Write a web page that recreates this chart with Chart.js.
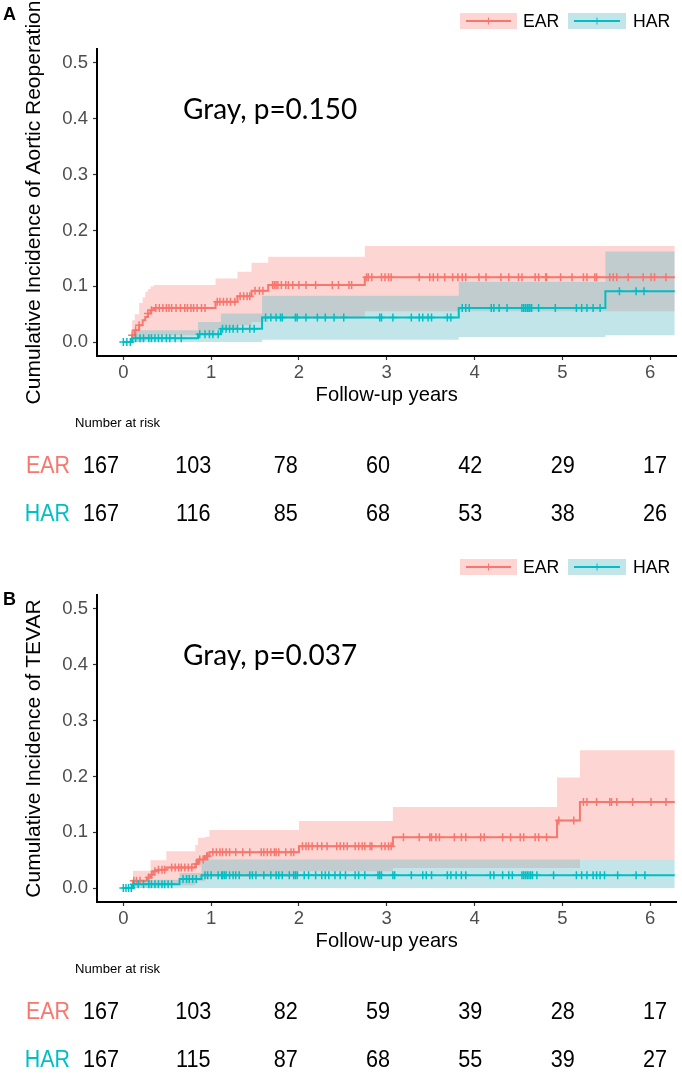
<!DOCTYPE html>
<html>
<head>
<meta charset="utf-8">
<script src="https://cdn.jsdelivr.net/npm/chart.js@4.4.1/dist/chart.umd.min.js"></script>
<style>
  html, body { margin: 0; padding: 0; background: #fff; }
  #wrap { position: relative; width: 682px; height: 1074px; overflow: hidden; }
  canvas { position: absolute; left: 0; }
  #chartA { top: 0; }
  #chartB { top: 546px; }
</style>
</head>
<body>
<div id="wrap">
  <canvas id="chartA" width="682" height="546"></canvas>
  <canvas id="chartB" width="682" height="528"></canvas>
</div>
<script>
const groups = ['EAR', 'HAR'];
const xTickYears = [0, 1, 2, 3, 4, 5, 6];
const yTickValues = [0, 0.1, 0.2, 0.3, 0.4, 0.5];
const riskYears = [0, 1, 2, 3, 4, 5, 6];

// panel A - aortic reoperation
const aEarTime  = [0, 0.10, 0.13, 0.18, 0.22, 0.25, 0.28, 0.31, 0.35, 1.05, 1.30, 1.46, 1.65, 2.75, 6.28];
const aEarCif   = [0, 0.012, 0.021, 0.030, 0.039, 0.045, 0.051, 0.057, 0.061, 0.072, 0.082, 0.092, 0.102, 0.116, 0.116];
const aEarUpper = [0, 0.039, 0.050, 0.070, 0.080, 0.090, 0.095, 0.100, 0.102, 0.114, 0.126, 0.142, 0.153, 0.172, 0.172];
const aEarLower = [0, 0, 0, 0, 0.002, 0.005, 0.008, 0.010, 0.012, 0.022, 0.030, 0.036, 0.042, 0.055, 0.055];
const aEarCensor = [0.10, 0.14, 0.18, 0.28, 0.32, 0.37, 0.41, 0.45, 0.49, 0.52, 0.55, 0.60, 0.65, 0.70, 0.73, 0.77, 0.80, 0.84, 0.89, 0.93,
  1.07, 1.10, 1.14, 1.18, 1.22, 1.27, 1.33, 1.37, 1.41, 1.44, 1.50, 1.55, 1.59, 1.70, 1.72, 1.74, 1.76, 1.80, 1.85, 1.88, 1.93,
  2.00, 2.08, 2.19, 2.38, 2.45, 2.57, 2.60, 2.77, 2.79, 2.83, 2.94, 2.98, 3.02, 3.05, 3.37, 3.49, 3.53, 3.58, 3.66, 3.75, 3.81,
  3.86, 3.90, 4.05, 4.13, 4.30, 4.39, 4.50, 4.54, 4.69, 4.73, 4.81, 4.82, 4.98, 5.11, 5.24, 5.28, 5.37, 5.39, 5.54, 5.58, 5.62,
  5.75, 5.92, 6.01, 6.05, 6.18];

const aHarTime  = [0, 0.10, 0.85, 1.11, 1.58, 3.82, 5.49, 6.28];
const aHarCif   = [0, 0.007, 0.014, 0.024, 0.044, 0.061, 0.091, 0.091];
const aHarUpper = [0, 0.021, 0.036, 0.051, 0.083, 0.108, 0.162, 0.162];
const aHarLower = [0, 0, 0, 0, 0.004, 0.009, 0.012, 0.012];
const aHarCensor = [0.00, 0.04, 0.08, 0.14, 0.19, 0.23, 0.29, 0.32, 0.36, 0.40, 0.44, 0.49, 0.53, 0.59, 0.66, 0.87, 0.93, 0.98,
  1.02, 1.08, 1.13, 1.17, 1.21, 1.25, 1.30, 1.36, 1.44, 1.49, 1.62, 1.68, 1.74, 1.79, 1.81, 1.96, 1.98, 2.08, 2.21, 2.30, 2.40,
  2.51, 2.92, 2.94, 3.07, 3.28, 3.37, 3.41, 3.47, 3.51, 3.69, 3.73, 3.86, 3.90, 3.94, 4.19, 4.22, 4.28, 4.37, 4.54, 4.56, 4.58,
  4.60, 4.62, 4.63, 4.65, 4.73, 4.92, 5.16, 5.22, 5.28, 5.35, 5.43, 5.65, 5.84, 5.93];

const aEarRisk = [167, 103, 78, 60, 42, 29, 17];
const aHarRisk = [167, 116, 85, 68, 53, 38, 26];

// panel B - TEVAR
const bEarTime  = [0, 0.11, 0.27, 0.31, 0.34, 0.40, 0.49, 0.82, 0.85, 0.93, 0.98, 2.00, 3.07, 4.94, 5.20, 6.28];
const bEarCif   = [0, 0.013, 0.019, 0.024, 0.030, 0.033, 0.037, 0.043, 0.051, 0.057, 0.064, 0.075, 0.091, 0.121, 0.154, 0.154];
const bEarUpper = [0, 0.031, 0.031, 0.050, 0.050, 0.050, 0.066, 0.077, 0.090, 0.092, 0.104, 0.120, 0.145, 0.198, 0.247, 0.247];
const bEarLower = [0, 0, 0, 0, 0, 0.003, 0.005, 0.008, 0.012, 0.016, 0.020, 0.030, 0.036, 0.036, 0.051, 0.051];
const bEarCensor = [0.12, 0.15, 0.19, 0.29, 0.32, 0.36, 0.40, 0.44, 0.47, 0.55, 0.59, 0.63, 0.66, 0.70, 0.74, 0.78, 0.83, 0.87,
  0.91, 0.95, 0.96, 1.02, 1.06, 1.10, 1.13, 1.17, 1.21, 1.28, 1.36, 1.44, 1.57, 1.60, 1.64, 1.68, 1.72, 1.74, 1.77, 1.85, 1.91,
  1.94, 2.04, 2.08, 2.11, 2.15, 2.21, 2.26, 2.32, 2.43, 2.47, 2.51, 2.55, 2.64, 2.68, 2.72, 2.75, 2.81, 2.83, 2.94, 2.98, 3.02,
  3.05, 3.19, 3.37, 3.49, 3.51, 3.56, 3.60, 3.77, 3.85, 3.90, 4.07, 4.11, 4.32, 4.41, 4.52, 4.56, 4.69, 4.73, 4.82, 4.96, 5.13,
  5.24, 5.28, 5.39, 5.54, 5.56, 5.62, 5.80, 6.01, 6.18];

const bHarTime  = [0, 0.11, 0.20, 0.64, 0.89, 6.28];
const bHarCif   = [0, 0.007, 0.007, 0.016, 0.023, 0.023];
const bHarUpper = [0, 0.012, 0.015, 0.027, 0.051, 0.051];
const bHarLower = [0, 0, 0, 0, 0, 0];
const bHarCensor = [0.00, 0.03, 0.06, 0.09, 0.12, 0.17, 0.23, 0.29, 0.32, 0.36, 0.40, 0.44, 0.47, 0.51, 0.55, 0.68, 0.72, 0.75,
  0.79, 0.83, 0.93, 0.96, 1.00, 1.08, 1.12, 1.13, 1.15, 1.17, 1.21, 1.25, 1.28, 1.32, 1.44, 1.47, 1.51, 1.60, 1.68, 1.74, 1.77,
  1.81, 1.89, 1.94, 1.96, 1.98, 2.06, 2.11, 2.19, 2.26, 2.30, 2.34, 2.41, 2.47, 2.53, 2.64, 2.68, 2.75, 2.90, 2.92, 2.94, 3.07,
  3.09, 3.28, 3.41, 3.45, 3.51, 3.69, 3.73, 3.79, 3.85, 3.90, 4.18, 4.22, 4.32, 4.39, 4.43, 4.54, 4.56, 4.58, 4.60, 4.62, 4.64,
  4.66, 4.71, 4.90, 5.16, 5.22, 5.28, 5.35, 5.39, 5.43, 5.48, 5.63, 5.84, 5.94];

const bEarRisk = [167, 103, 82, 59, 39, 28, 17];
const bHarRisk = [167, 115, 87, 68, 55, 39, 27];

const lineColors = ['#F8766D', '#00BFC4'];
const bandColors = ['rgba(248,118,109,0.3)', 'rgba(100,190,200,0.4)'];
const FONT = '"Liberation Sans", Arial, sans-serif';

Chart.defaults.font.family = FONT;

function pts(times, vals) {
    return times.map((t, i) => ({x: t, y: vals[i]}));
}

// value of the step curve at time t
function stepAt(times, vals, t) {
    let v = vals[0];
    for (let i = 0; i < times.length; i++) {
        if (times[i] <= t) v = vals[i];
    }
    return v;
}

function censorPts(censor, times, vals) {
    return censor.map(t => ({x: t, y: stepAt(times, vals, t)}));
}

function buildDatasets(curves) {
    let sets = [];
    // bands first (underneath), then lines, then censor marks
    curves.forEach((c, gi) => {
        sets.push({
            data: pts(c.time, c.upper), stepped: true, fill: '+1',
            backgroundColor: bandColors[gi], borderColor: 'rgba(0,0,0,0)', borderWidth: 0,
            pointRadius: 0, order: 20 - gi * 2
        });
        sets.push({
            data: pts(c.time, c.lower), stepped: true, fill: false,
            borderColor: 'rgba(0,0,0,0)', borderWidth: 0, pointRadius: 0, order: 19 - gi * 2
        });
    });
    curves.forEach((c, gi) => {
        sets.push({
            data: pts(c.time, c.cif), stepped: true, fill: false,
            borderColor: lineColors[gi], borderWidth: 2, pointRadius: 0, order: 12 - gi
        });
    });
    curves.forEach((c, gi) => {
        sets.push({
            data: censorPts(c.censor, c.time, c.cif), showLine: false, fill: false,
            pointStyle: 'cross', pointRadius: 4, pointBorderWidth: 1.5,
            pointBorderColor: lineColors[gi], borderColor: lineColors[gi], order: 8 - gi
        });
    });
    return sets;
}

// text squeezed sideways a little, like the narrow type of the figure
function narrowText(ctx, text, x, y, sx) {
    ctx.save();
    ctx.translate(x, y);
    ctx.scale(sx, 1);
    ctx.fillText(text, 0, 0);
    ctx.restore();
}

function overlay(panel) {
    return {
        id: 'overlay' + panel.letter,
        afterDraw(chart) {
            const ctx = chart.ctx;
            const area = chart.chartArea;
            ctx.save();

            // panel letter
            ctx.fillStyle = '#000';
            ctx.font = 'bold 18px ' + FONT;
            ctx.textAlign = 'left';
            ctx.textBaseline = 'alphabetic';
            ctx.fillText(panel.letter, 3, panel.letterY);

            // legend
            const boxes = [{x: 460, w: 57, tx: 523}, {x: 568, w: 58, tx: 633}];
            groups.forEach((g, gi) => {
                const b = boxes[gi];
                ctx.fillStyle = bandColors[gi];
                ctx.fillRect(b.x, 13, b.w, 16);
                ctx.strokeStyle = lineColors[gi];
                ctx.lineWidth = 2;
                ctx.beginPath();
                ctx.moveTo(b.x + 6, 21);
                ctx.lineTo(b.x + b.w - 6, 21);
                ctx.stroke();
                ctx.lineWidth = 1;
                ctx.beginPath();
                ctx.moveTo(b.x + b.w / 2, 17.5);
                ctx.lineTo(b.x + b.w / 2, 24.5);
                ctx.stroke();
                ctx.fillStyle = '#000';
                ctx.font = '19px ' + FONT;
                ctx.textBaseline = 'middle';
                narrowText(ctx, g, b.tx, 22, 0.93);
            });

            // y axis title
            ctx.save();
            ctx.translate(34, (area.top + area.bottom) / 2);
            ctx.rotate(-Math.PI / 2);
            ctx.fillStyle = '#000';
            ctx.font = '21px ' + FONT;
            ctx.textAlign = 'center';
            ctx.textBaseline = 'middle';
            ctx.fillText(panel.yTitle, 0, 0);
            ctx.restore();

            // test result
            ctx.fillStyle = '#000';
            ctx.font = '28px Lato, "Open Sans", sans-serif';
            ctx.textAlign = 'left';
            ctx.textBaseline = 'middle';
            ctx.fillText(panel.test, 183, 110);

            // x axis title
            ctx.font = '21px ' + FONT;
            ctx.textAlign = 'center';
            narrowText(ctx, 'Follow-up years', (area.left + area.right) / 2, 395, 0.96);

            // number at risk table
            ctx.font = '13.5px ' + FONT;
            ctx.textAlign = 'left';
            narrowText(ctx, 'Number at risk', 75, 423, 0.97);
            const rowY = [467, 515];
            ctx.font = '23.5px ' + FONT;
            groups.forEach((g, gi) => {
                ctx.fillStyle = lineColors[gi];
                ctx.textAlign = 'right';
                narrowText(ctx, g, 70, rowY[gi], 0.91);
                ctx.fillStyle = '#000';
                ctx.textAlign = 'center';
                panel.risk[gi].forEach((n, i) => {
                    narrowText(ctx, String(n), 101 + riskYears[i] * 92.33, rowY[gi], 0.92);
                });
            });
            ctx.restore();
        }
    };
}

function makeChart(id, panel, bottomPad) {
    return new Chart(document.getElementById(id), {
        type: 'line',
        data: { datasets: buildDatasets(panel.curves) },
        options: {
            responsive: false,
            animation: false,
            devicePixelRatio: 1,
            layout: { padding: { top: 49, right: 2, left: 0, bottom: bottomPad } },
            plugins: { legend: { display: false }, tooltip: { enabled: false } },
            scales: {
                x: {
                    type: 'linear', min: -0.3, max: 6.3,
                    afterBuildTicks: s => { s.ticks = xTickYears.map(v => ({value: v})); },
                    afterFit: s => { s.height = 30; },
                    border: { color: '#000', width: 2 },
                    grid: { drawOnChartArea: false, drawTicks: true, tickLength: 4, tickColor: '#333', tickWidth: 1.2 },
                    ticks: { color: '#4d4d4d', font: { size: 18.5 }, padding: 2, maxRotation: 0, autoSkip: false,
                             callback: v => String(v) }
                },
                y: {
                    type: 'linear', min: -0.025, max: 0.525,
                    afterBuildTicks: s => { s.ticks = yTickValues.map(v => ({value: v})); },
                    afterFit: s => { s.width = 97; },
                    border: { color: '#000', width: 2 },
                    grid: { drawOnChartArea: false, drawTicks: true, tickLength: 4, tickColor: '#333', tickWidth: 1.2 },
                    ticks: { color: '#4d4d4d', font: { size: 18.5 }, padding: 5, callback: v => v.toFixed(1) }
                }
            }
        },
        plugins: [overlay(panel)]
    });
}

makeChart('chartA', {
    letter: 'A', letterY: 20,
    yTitle: 'Cumulative Incidence of Aortic Reoperation',
    test: 'Gray, p=0.150',
    risk: [aEarRisk, aHarRisk],
    curves: [
        { time: aEarTime, cif: aEarCif, upper: aEarUpper, lower: aEarLower, censor: aEarCensor },
        { time: aHarTime, cif: aHarCif, upper: aHarUpper, lower: aHarLower, censor: aHarCensor }
    ]
}, 160);

makeChart('chartB', {
    letter: 'B', letterY: 59,
    yTitle: 'Cumulative Incidence of TEVAR',
    test: 'Gray, p=0.037',
    risk: [bEarRisk, bHarRisk],
    curves: [
        { time: bEarTime, cif: bEarCif, upper: bEarUpper, lower: bEarLower, censor: bEarCensor },
        { time: bHarTime, cif: bHarCif, upper: bHarUpper, lower: bHarLower, censor: bHarCensor }
    ]
}, 142);
</script>
</body>
</html>
